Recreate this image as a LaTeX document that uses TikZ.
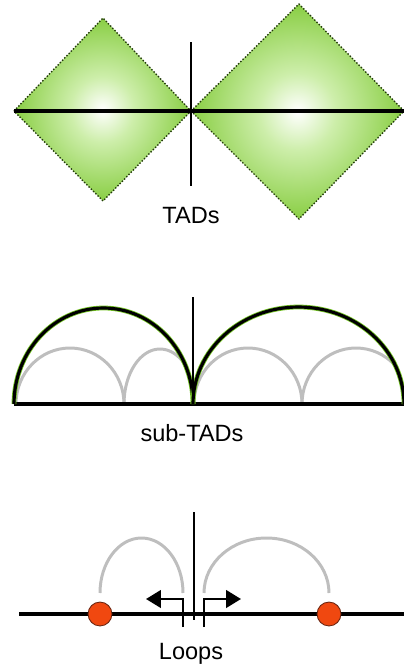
\documentclass[tikz,border=0pt]{standalone}
\usepackage{fontspec}
\setmainfont{Liberation Sans}
\usetikzlibrary{arrows.meta,positioning,calc}
\definecolor{tadgreen}{RGB}{116,196,36}
\definecolor{tadpale}{RGB}{205,238,170}
\definecolor{loopgray}{RGB}{190,190,190}
\definecolor{anchorred}{RGB}{240,72,16}
\definecolor{anchoredge}{RGB}{110,40,20}
\pgfdeclareradialshading{tadglow}{\pgfpoint{0bp}{0bp}}{color(0bp)=(white);color(9bp)=(tadpale);color(30bp)=(tadgreen);color(50bp)=(tadgreen)}

\begin{document}
\begin{tikzpicture}[x=0.02cm,y=0.02cm,>={Triangle[length=8.5pt,width=10pt]},
  tad/.style={shading=tadglow,draw=black!70!tadgreen,densely dotted,line width=0.8pt},
  chrom/.style={line width=1.8pt},
  border/.style={line width=0.9pt},
  subtad/.style={loopgray,line width=1.7pt},
  tadarc/.style={double=black,double distance=1.8pt,draw=tadgreen,line width=0.45pt},
  ctcf/.style={circle,fill=anchorred,draw=anchoredge,line width=0.5pt,inner sep=0pt,minimum size=13.6pt},
  lbl/.style={font=\fontsize{13.4}{16}\selectfont,inner sep=0pt,anchor=base}]
  \useasboundingbox (0,0) rectangle (404,-667);

  \shadedraw[tad] (14,-111) -- (103,-18) -- (191,-111) -- (103,-201) -- cycle;
  \shadedraw[tad] (191,-111) -- (299,-4) -- (404,-111) -- (299,-219) -- cycle;
  \coordinate (tadL) at (14,-111);
  \coordinate (tadR) at (404,-111);
  \draw[line width=2pt] (tadL) -- (tadR);
  \draw[border] (191,-42) -- (191,-186);
  \node[lbl] (tadlbl) at (191,-223) {TADs};

  \coordinate (subL) at (14,-404);
  \coordinate (subM) at (193,-404);
  \coordinate (subR) at (404,-404);
  \draw[subtad] (16,-404) arc[start angle=180,end angle=0,x radius=54,y radius=56];
  \draw[subtad] (194,-404) arc[start angle=180,end angle=0,x radius=54,y radius=56];
  \begin{scope}
    \clip (subL) arc[start angle=180,end angle=0,x radius=89.5,y radius=96] -- cycle;
    \draw[subtad] (124,-404) arc[start angle=180,end angle=0,x radius=36,y radius=55];
  \end{scope}
  \begin{scope}
    \clip (subM) arc[start angle=180,end angle=0,x radius=105.5,y radius=97] -- cycle;
    \draw[subtad] (302,-404) arc[start angle=180,end angle=0,x radius=54,y radius=56];
  \end{scope}
  \draw[chrom] (subL) -- (subR);
  \draw[tadarc] (subL) arc[start angle=180,end angle=0,x radius=89.5,y radius=96];
  \draw[tadarc] (subM) arc[start angle=180,end angle=0,x radius=105.5,y radius=97];
  \draw[border] (193,-297) -- (subM);
  \node[lbl] (sublbl) at (192,-441) {sub-TADs};

  \coordinate (chrL) at (19,-614);
  \coordinate (chrR) at (404,-614);
  \draw[chrom] (chrL) -- (chrR);
  \node[ctcf] (ctcfL) at (100,-614) {};
  \node[ctcf] (ctcfR) at (329,-614) {};
  \draw[subtad] ($(ctcfL)+(0,21)$) arc[start angle=180,end angle=0,x radius=41.5,y radius=55];
  \draw[subtad] ($(ctcfR)+(-125,21)$) arc[start angle=180,end angle=0,x radius=62.5,y radius=55];
  \draw[border] (194,-512) -- (194,-620);
  \draw[->,line width=1.4pt] (183,-627) |- (146,-599);
  \draw[->,line width=1.4pt] (204,-627) |- (241,-599);
  \node[lbl] (looplbl) at (191,-659) {Loops};
\end{tikzpicture}
\end{document}
